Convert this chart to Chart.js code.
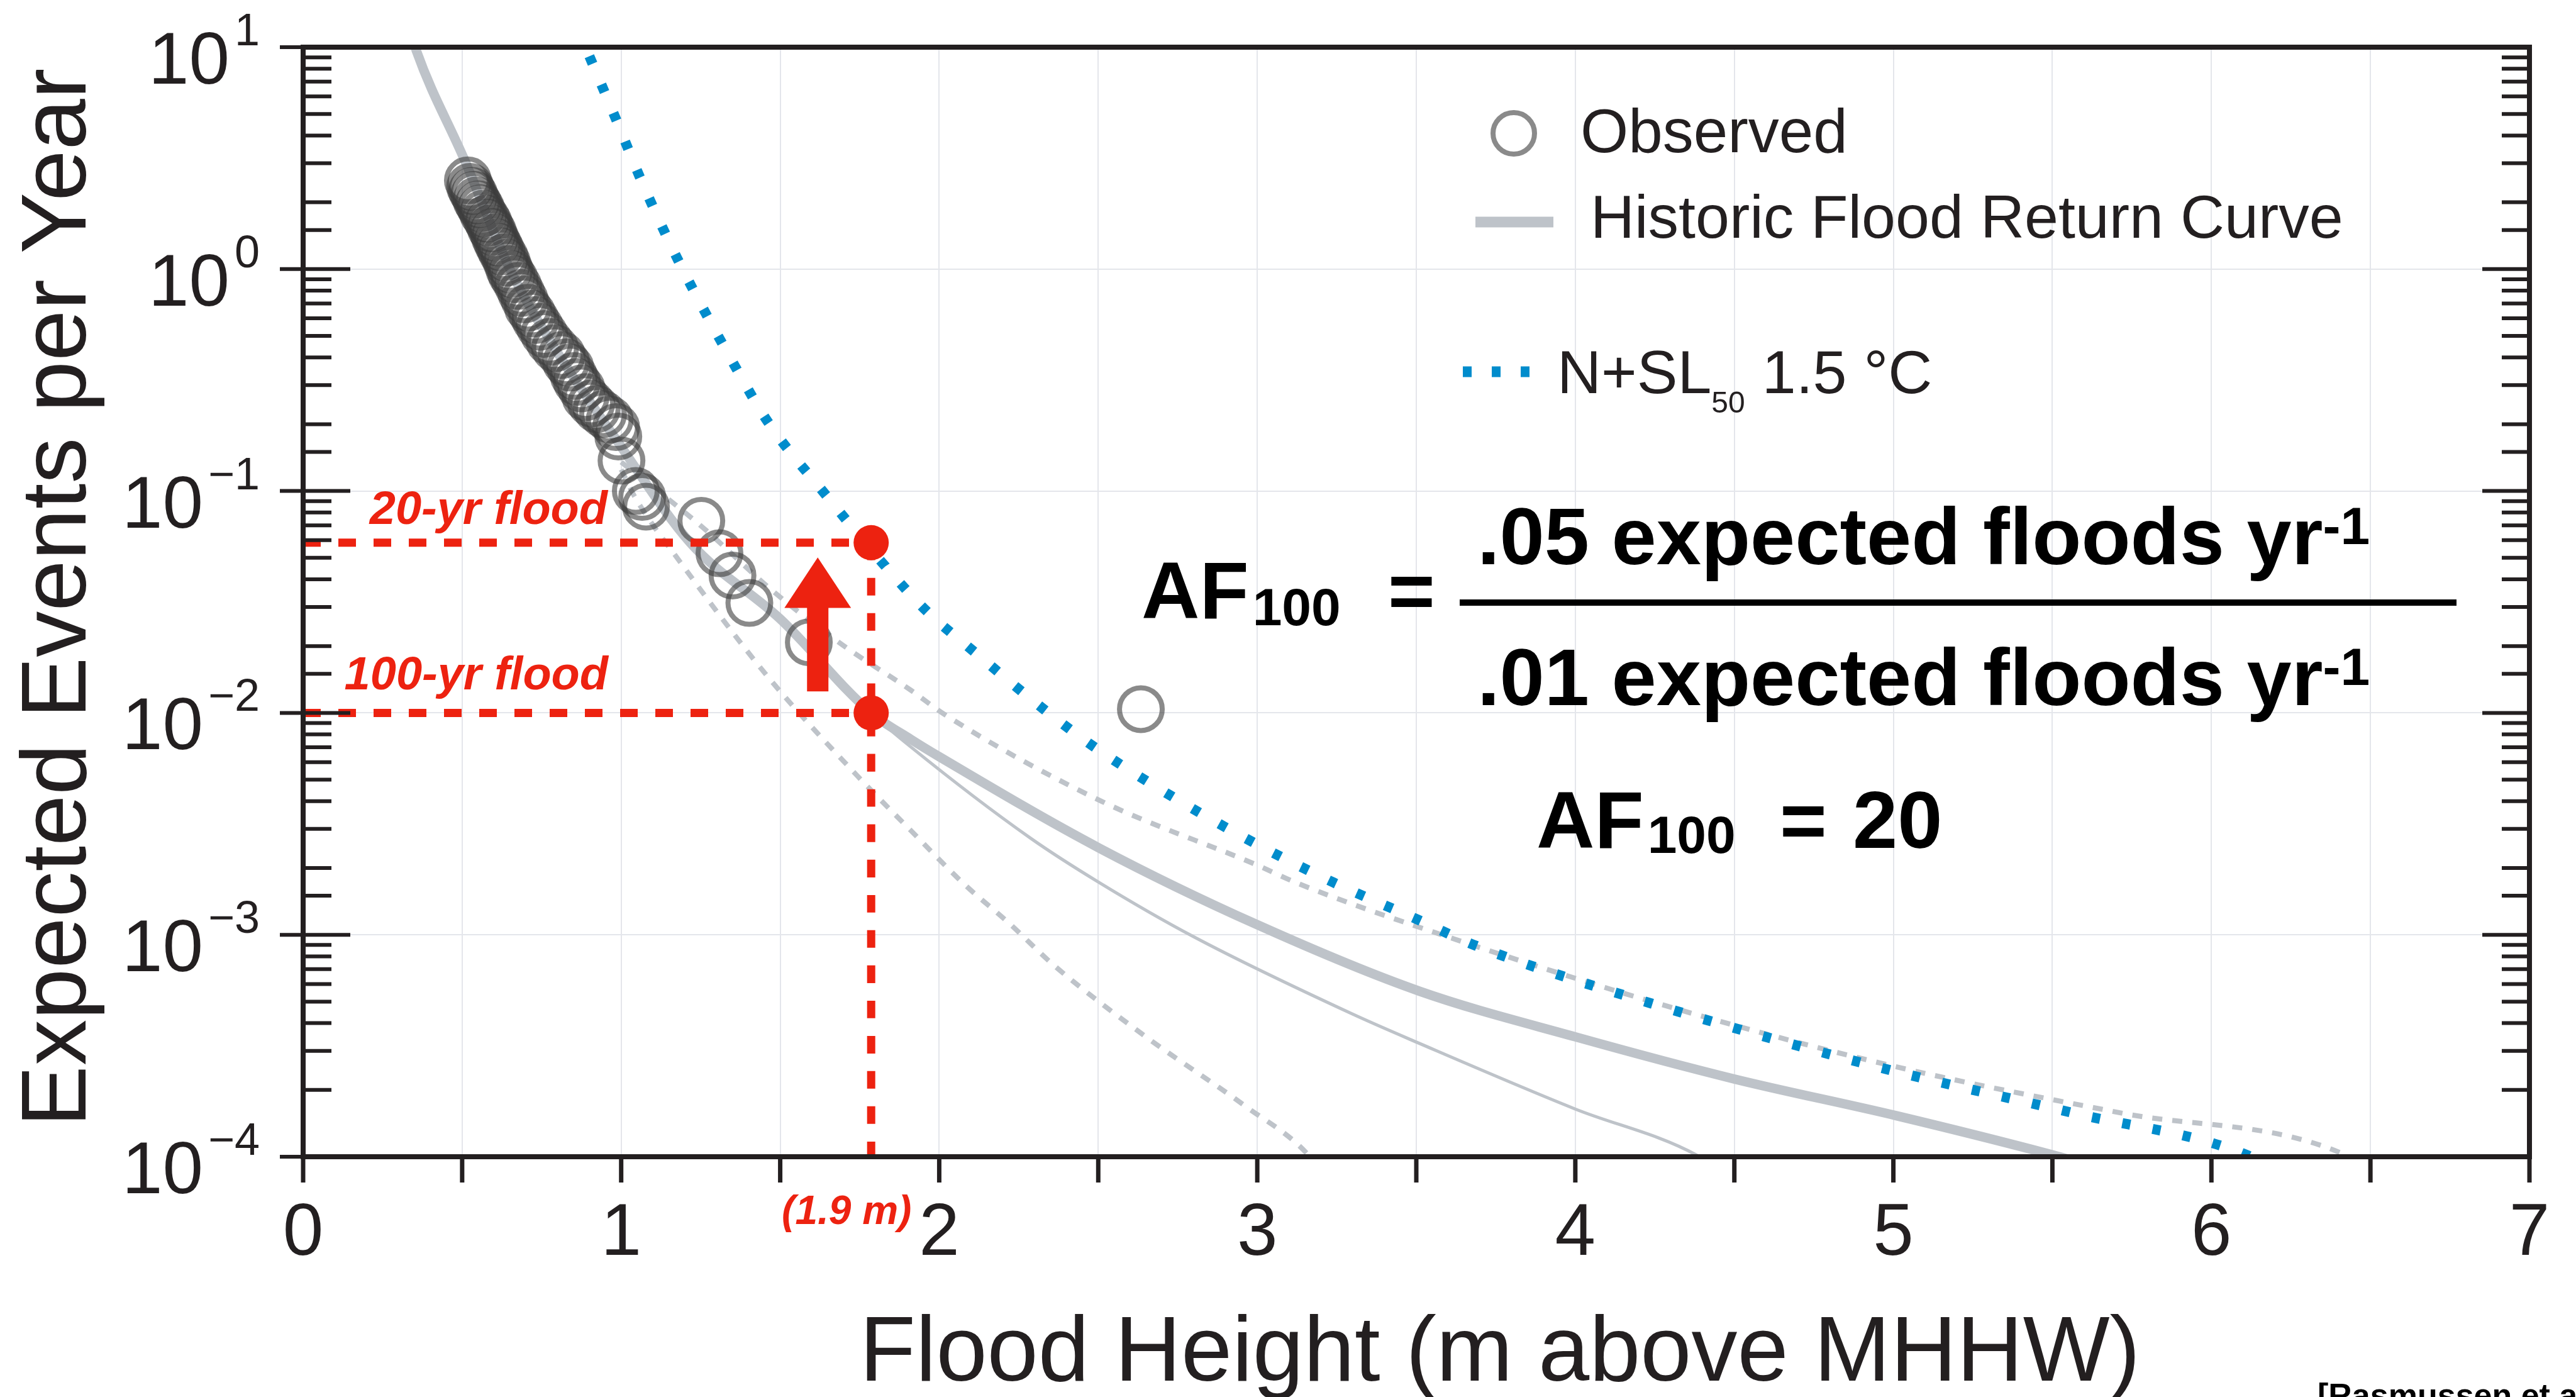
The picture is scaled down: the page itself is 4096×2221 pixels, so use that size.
<!DOCTYPE html>
<html>
<head>
<meta charset="utf-8">
<script src="https://cdn.jsdelivr.net/npm/chart.js@4.4.1/dist/chart.umd.min.js"></script>
<style>
  html, body { margin: 0; padding: 0; background: #fff; overflow: hidden; }
  canvas { display: block; }
</style>
</head>
<body>
<canvas id="floodChart" width="4096" height="2221"></canvas>
<script>
// observed floods: height (m above MHHW) / events per year
const obsHeight = [0.518, 0.525, 0.531, 0.538, 0.545, 0.552, 0.559, 0.566, 0.576, 0.583,
                   0.590, 0.597, 0.603, 0.610, 0.617, 0.624, 0.634, 0.641, 0.648, 0.655,
                   0.665, 0.676, 0.686, 0.696, 0.707, 0.720, 0.731, 0.744, 0.758, 0.775,
                   0.792, 0.813, 0.827, 0.840, 0.851, 0.861, 0.875, 0.888, 0.906, 0.923,
                   0.943, 0.964, 0.984, 0.991, 1.001, 1.046, 1.066, 1.078, 1.252, 1.309,
                   1.350, 1.403, 1.590, 2.634];
const obsFreq = [2.51, 2.35, 2.25, 2.16, 2.04, 1.96, 1.88, 1.78, 1.69, 1.62,
                 1.53, 1.47, 1.39, 1.32, 1.26, 1.20, 1.13, 1.07, 1.00, 0.95,
                 0.90, 0.84, 0.78, 0.73, 0.67, 0.63, 0.59, 0.55, 0.51, 0.47,
                 0.44, 0.41, 0.38, 0.36, 0.33, 0.31, 0.29, 0.265, 0.248, 0.234,
                 0.222, 0.210, 0.194, 0.176, 0.137, 0.100, 0.094, 0.085, 0.0734, 0.0524,
                 0.0416, 0.0313, 0.0208, 0.0104];

// historic flood return curve (thick grey)
const histHeight = [0.34, 0.356, 0.508, 0.65, 0.80, 0.99, 1.217, 1.50, 1.786, 1.911,
                    2.0, 2.503, 3.0, 3.51, 4.0, 4.5, 5.01, 5.5, 5.6];
const histFreq = [11.5, 9.64, 3.09, 1.0, 0.42, 0.166, 0.0585, 0.0265, 0.0100, 0.0076,
                  0.00635, 0.00246, 0.00111, 5.57e-4, 3.47e-4, 2.24e-4, 1.53e-4, 1.02e-4, 9.3e-5];

// thin grey curve
const altHeight = [1.50, 1.786, 1.911, 2.288, 2.503, 2.80, 3.30, 3.51, 4.0, 4.38, 4.42];
const altFreq = [0.0265, 0.0100, 0.00702, 0.00272, 0.00172, 9.8e-4, 4.39e-4, 3.24e-4, 1.64e-4, 1.02e-4, 9.3e-5];

// dashed bounds
const upHeight = [1.0, 1.25, 1.476, 1.697, 1.911, 2.02, 2.51, 3.0, 3.13, 3.58, 4.34, 5.01, 5.71, 6.42, 6.46];
const upFreq = [0.135, 0.0698, 0.0355, 0.0202, 0.01265, 0.00977, 0.0040, 0.00206, 0.0017, 0.0010,
                4.54e-4, 2.54e-4, 1.58e-4, 1.02e-4, 9.3e-5];
const lowHeight = [1.0, 1.043, 1.191, 1.463, 1.74, 1.911, 2.077, 2.222, 2.36, 2.65, 2.96, 3.16, 3.18];
const lowFreq = [0.125, 0.094, 0.0467, 0.01445, 0.00525, 0.00295, 0.0017, 0.00112, 7.3e-4, 3.47e-4,
                 1.7e-4, 1.02e-4, 9.3e-5];

// N+SL50 1.5 °C projection
const projHeight = [0.90, 0.986, 1.059, 1.18, 1.366, 1.462, 1.646, 1.83, 1.961, 2.111, 2.332,
                    2.487, 2.731, 2.985, 3.24, 3.505, 3.69, 4.24, 4.95, 5.56, 6.11, 6.16];
const projFreq = [9.1, 4.65, 2.59, 1.09, 0.348, 0.204, 0.095, 0.0459, 0.0287, 0.0188, 0.0103,
                  0.00703, 0.00421, 0.00262, 0.00172, 0.00117, 8.9e-4, 4.9e-4, 2.54e-4, 1.58e-4, 1.02e-4, 9.3e-5];

// 20-yr / 100-yr markers and the arrow between them
const markHeight = 1.786;
const returnFreq = [0.0585, 0.01];
const dropEnd = 9.2e-5;
const arrowHeight = 1.618;
const arrowFreq = [0.0125, 0.0297, 0.0502]; // tail, head base, tip

// ticks
const xTicks = [0, 1, 2, 3, 4, 5, 6, 7];
const yExponents = [-4, -3, -2, -1, 0, 1];

const FONT = '"Liberation Sans", Arial, Helvetica, sans-serif';
const ink = '#231f20';
const red = '#ed2210';
const blue = '#008ccc';
const curveGrey = '#bec3c9';
const obsStroke = 'rgba(60,60,60,0.6)';

Chart.defaults.font.family = FONT;

const pts = (xs, ys) => xs.map((x, i) => ({x: x, y: ys[i]}));
const isDecade = v => Math.abs(Math.log10(v) - Math.round(Math.log10(v))) < 1e-6;

function say(ctx, s, x, y, font, color, align) {
    ctx.font = font;
    ctx.fillStyle = color;
    ctx.textAlign = align || 'left';
    ctx.textBaseline = 'alphabetic';
    ctx.fillText(s, x, y);
    return ctx.measureText(s).width;
}

const decorations = {
    id: 'decorations',
    afterDatasetsDraw(chart) {
        const {ctx, scales: {x, y}} = chart;
        const ax = x.getPixelForValue(arrowHeight);
        const tail = y.getPixelForValue(arrowFreq[0]);
        const base = y.getPixelForValue(arrowFreq[1]);
        const tip = y.getPixelForValue(arrowFreq[2]);
        ctx.save();
        ctx.fillStyle = red;
        ctx.fillRect(ax - 17, base - 1, 34, tail - base + 1);
        ctx.beginPath();
        ctx.moveTo(ax - 53, base);
        ctx.lineTo(ax + 53, base);
        ctx.lineTo(ax, tip);
        ctx.closePath();
        ctx.fill();
        ctx.restore();
    },
    afterDraw(chart) {
        const {ctx, chartArea: a, scales: {x, y}} = chart;
        ctx.save();

        // ticks
        ctx.strokeStyle = ink;
        ctx.lineCap = 'butt';
        ctx.lineWidth = 6;
        y.ticks.forEach(t => {
            const py = y.getPixelForValue(t.value);
            const major = isDecade(t.value);
            ctx.beginPath();
            ctx.moveTo(major ? a.left - 37 : a.left, py);
            ctx.lineTo(a.left + (major ? 75 : 45), py);
            ctx.moveTo(a.right - (major ? 75 : 44), py);
            ctx.lineTo(a.right, py);
            ctx.stroke();
        });
        ctx.lineWidth = 7;
        x.ticks.forEach(t => {
            const px = x.getPixelForValue(t.value);
            ctx.beginPath();
            ctx.moveTo(px, a.bottom);
            ctx.lineTo(px, a.bottom + 41);
            ctx.stroke();
        });

        // box
        ctx.lineWidth = 8;
        ctx.strokeRect(a.left, a.top, a.right - a.left, a.bottom - a.top);

        // tick labels
        yExponents.forEach(e => {
            const py = y.getPixelForValue(Math.pow(10, e));
            const sup = e < 0 ? '\u2212' + (-e) : String(e);
            const w = say(ctx, sup, a.left - 69, py - 3, `72px ${FONT}`, ink, 'right');
            say(ctx, '10', a.left - 69 - w - 8, py + 58, `116px ${FONT}`, ink, 'right');
        });
        xTicks.forEach(v => {
            say(ctx, String(v), x.getPixelForValue(v), a.bottom + 156, `116px ${FONT}`, ink, 'center');
        });

        // axis titles
        say(ctx, 'Flood Height (m above MHHW)', 2385, 2195, `146px ${FONT}`, ink, 'center');
        ctx.save();
        ctx.translate(136, 950);
        ctx.rotate(-Math.PI / 2);
        say(ctx, 'Expected Events per Year', 0, 0, `146px ${FONT}`, ink, 'center');
        ctx.restore();

        // red annotations
        const bi = `italic bold 74px ${FONT}`;
        say(ctx, '20-yr flood', 966, y.getPixelForValue(returnFreq[0]) - 30, bi, red, 'right');
        say(ctx, '100-yr flood', 967, y.getPixelForValue(returnFreq[1]) - 37, bi, red, 'right');
        say(ctx, '(1.9 m)', x.getPixelForValue(markHeight) - 39, a.bottom + 107, `italic bold 64px ${FONT}`, red, 'center');

        // legend
        ctx.strokeStyle = obsStroke;
        ctx.lineWidth = 8;
        ctx.beginPath();
        ctx.arc(2407, 212, 33, 0, Math.PI * 2);
        ctx.stroke();
        say(ctx, 'Observed', 2513, 242, `98px ${FONT}`, ink);

        ctx.strokeStyle = curveGrey;
        ctx.lineWidth = 17;
        ctx.beginPath();
        ctx.moveTo(2346, 353);
        ctx.lineTo(2470, 353);
        ctx.stroke();
        say(ctx, 'Historic Flood Return Curve', 2529, 378, `97px ${FONT}`, ink);

        ctx.strokeStyle = blue;
        ctx.lineWidth = 17;
        ctx.setLineDash([14, 32]);
        ctx.beginPath();
        ctx.moveTo(2326, 591);
        ctx.lineTo(2432, 591);
        ctx.stroke();
        ctx.setLineDash([]);
        let lx = 2476;
        lx += say(ctx, 'N+SL', lx, 625, `97px ${FONT}`, ink);
        lx += say(ctx, '50', lx, 656, `48px ${FONT}`, ink);
        say(ctx, ' 1.5 \u00b0C', lx, 625, `97px ${FONT}`, ink);

        // amplification factor equation
        const big = `bold 128px ${FONT}`;
        const sub = `bold 84px ${FONT}`;
        const sup = `bold 84px ${FONT}`;
        let ex = 1815;
        ex += say(ctx, 'AF', ex, 983, big, '#000');
        say(ctx, '100', ex + 6, 994, sub, '#000');
        say(ctx, '=', 2207, 983, big, '#000');
        ctx.fillStyle = '#000';
        ctx.fillRect(2321, 953, 1585, 10);
        let nx = 2349;
        nx += say(ctx, '.05 expected floods yr', nx, 897, big, '#000');
        say(ctx, '-1', nx, 865, sup, '#000');
        nx = 2349;
        nx += say(ctx, '.01 expected floods yr', nx, 1121, big, '#000');
        say(ctx, '-1', nx, 1089, sup, '#000');
        ex = 2443;
        ex += say(ctx, 'AF', ex, 1348, big, '#000');
        say(ctx, '100', ex + 6, 1356, sub, '#000');
        say(ctx, '=', 2830, 1348, big, '#000');
        say(ctx, '20', 2946, 1348, big, '#000');

        // source
        say(ctx, '[Rasmussen et al., 2018]', 3685, 2236, `bold 52px ${FONT}`, '#000');

        ctx.restore();
    }
};

const curve = (label, xs, ys, color, width, dash) => ({
    label: label,
    data: pts(xs, ys),
    showLine: true,
    borderColor: color,
    borderWidth: width,
    borderDash: dash || [],
    pointRadius: 0,
    cubicInterpolationMode: 'monotone'
});

const ctx = document.getElementById('floodChart').getContext('2d');
window.floodChart = new Chart(ctx, {
    type: 'scatter',
    data: {
        datasets: [
            {
                label: 'return levels',
                data: pts([markHeight, markHeight], returnFreq),
                pointRadius: 28,
                pointBackgroundColor: red,
                pointBorderWidth: 0,
                showLine: false
            },
            curve('20-yr', [0, markHeight], [returnFreq[0], returnFreq[0]], red, 13, [28, 28]),
            curve('100-yr', [0, markHeight], [returnFreq[1], returnFreq[1]], red, 13, [28, 28]),
            Object.assign(curve('drop', [markHeight, markHeight], [returnFreq[0], dropEnd], red, 13, [28, 28]), {clip: false}),
            {
                label: 'Observed',
                data: pts(obsHeight, obsFreq),
                pointRadius: 34,
                pointBorderWidth: 8,
                pointBorderColor: obsStroke,
                pointBackgroundColor: 'rgba(0,0,0,0)',
                showLine: false
            },
            curve('N+SL50 1.5 \u00b0C', projHeight, projFreq, blue, 16, [13, 36]),
            curve('upper', upHeight, upFreq, curveGrey, 8, [16, 16]),
            curve('lower', lowHeight, lowFreq, curveGrey, 8, [16, 16]),
            curve('Historic Flood Return Curve', histHeight, histFreq, curveGrey, 15),
            curve('thin', altHeight, altFreq, curveGrey, 5)
        ]
    },
    options: {
        responsive: false,
        devicePixelRatio: 1,
        animation: false,
        events: [],
        layout: {padding: {left: 482, right: 74, top: 75, bottom: 382}},
        plugins: {legend: {display: false}, tooltip: {enabled: false}, title: {display: false}},
        scales: {
            x: {
                type: 'linear',
                min: 0,
                max: 7,
                ticks: {stepSize: 0.5, display: false},
                grid: {color: '#e4e6eb', lineWidth: 2, drawTicks: false},
                border: {display: false},
                afterFit: s => { s.height = 0; }
            },
            y: {
                type: 'logarithmic',
                min: 1e-4,
                max: 10,
                ticks: {display: false},
                grid: {
                    color: c => (c.tick && isDecade(c.tick.value)) ? '#e4e6eb' : 'rgba(0,0,0,0)',
                    lineWidth: 2,
                    drawTicks: false
                },
                border: {display: false},
                afterFit: s => { s.width = 0; }
            }
        }
    },
    plugins: [decorations]
});
</script>
</body>
</html>
